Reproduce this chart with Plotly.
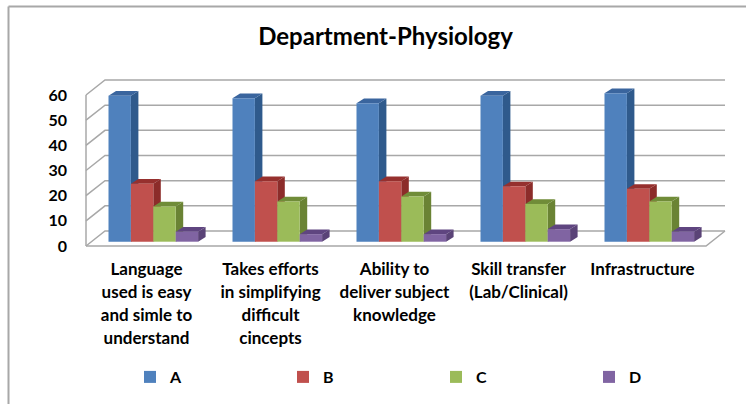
"""Department-Physiology 3D-look clustered column chart."""

import plotly.graph_objects as go

W, H = 746, 404
FONT = "Lato, Carlito, sans-serif"
GRID = "#A8A8A8"

categories = [
    ["Language", "used is easy", "and simle to", "understand"],
    ["Takes efforts", "in simplifying", "difficult", "cincepts"],
    ["Ability to", "deliver subject", "knowledge"],
    ["Skill transfer", "(Lab/Clinical)"],
    ["Infrastructure"],
]
series_names = ["A", "B", "C", "D"]
series_a = [58, 57, 55, 58, 59]
series_b = [23, 24, 24, 22, 21]
series_c = [14, 16, 18, 15, 16]
series_d = [4, 3, 3, 5, 4]
y_ticks = [0, 10, 20, 30, 40, 50, 60]

front_colors = ["#4F81BD", "#C0504D", "#9BBB59", "#8064A2"]
side_colors = ["#2F5A8C", "#8C2C2A", "#6A8334", "#5A4377"]
top_colors = ["#3A659E", "#96302E", "#708C38", "#5F4580"]

# plot area in pixels, one x unit = one category, floor front edge is y=0
L, R, T, B = 72, 730, 70, 252
PX_X = 124.0
PX_Y = 151 / 60
X_RANGE = [(L - 148) / PX_X, (R - 148) / PX_X]
Y_RANGE = [(246 - B) / PX_Y, (246 - T) / PX_Y]

# projection offsets
WALL_DX, WALL_DY = 19 / PX_X, 15 / PX_Y
BAR_SHIFT, BAR_BASE = 5.3 / PX_X, 4.3 / PX_Y
FACE_DX, FACE_DY = 7.5 / PX_X, 4.7 / PX_Y
BAR_GAP = 0.2774
BAR_W = (1 - BAR_GAP) / 4

fig = go.Figure()

# walls and floor
first, last = -0.5, len(categories) - 0.5
grid_x, grid_y = [first, first, None], [y_ticks[0], y_ticks[-1], None]
for t in y_ticks:
    grid_x += [first, first + WALL_DX, last + WALL_DX, None]
    grid_y += [t, t + WALL_DY, t + WALL_DY, None]
grid_x += [first, last, last + WALL_DX]
grid_y += [0, 0, WALL_DY]
fig.add_trace(
    go.Scatter(
        x=grid_x,
        y=grid_y,
        mode="lines",
        line=dict(color=GRID, width=1.5),
        showlegend=False,
        hoverinfo="skip",
    )
)

# side and top faces, painted left to right, fronts sit above on the overlay axes
all_series = [series_a, series_b, series_c, series_d]
for j, values in enumerate(all_series):
    side_x, side_y, top_x, top_y = [], [], [], []
    for i, v in enumerate(values):
        left = i + BAR_SHIFT - 2 * BAR_W + j * BAR_W
        right = left + BAR_W
        peak = v + BAR_BASE
        side_x += [right, right + FACE_DX, right + FACE_DX, right, None]
        side_y += [BAR_BASE, BAR_BASE + FACE_DY, peak + FACE_DY, peak, None]
        top_x += [left, left + FACE_DX, right + FACE_DX, right, None]
        top_y += [peak, peak + FACE_DY, peak + FACE_DY, peak, None]
    for xs, ys, color in [(side_x, side_y, side_colors[j]), (top_x, top_y, top_colors[j])]:
        fig.add_trace(
            go.Scatter(
                x=xs,
                y=ys,
                mode="lines",
                fill="toself",
                fillcolor=color,
                line=dict(width=0, color=color),
                showlegend=False,
                hoverinfo="skip",
            )
        )

for j, values in enumerate(all_series):
    fig.add_trace(
        go.Bar(
            x=[i + BAR_SHIFT for i in range(len(values))],
            y=values,
            base=BAR_BASE,
            name=series_names[j],
            marker=dict(color=front_colors[j], line=dict(width=0)),
            xaxis="x2",
            yaxis="y2",
        )
    )


def tick_label(lines):
    # tick font size sets the line pitch, the span sets the glyph size
    return "<br>".join(f'<span style="font-size:17px">{s}</span>' for s in lines)


def px_x(p):
    return (p - L) / (R - L)


def px_y(p):
    return (B - p) / (B - T)


fig.update_layout(
    width=W,
    height=H,
    margin=dict(l=L, r=W - R, t=T, b=H - B, pad=0),
    autosize=False,
    paper_bgcolor="white",
    plot_bgcolor="white",
    font=dict(family=FONT, color="black", size=15),
    barmode="group",
    bargap=BAR_GAP,
    bargroupgap=0,
    title=dict(
        text="<b>Department-Physiology</b>",
        font=dict(family=FONT, size=24, color="black"),
        x=385.5 / W,
        xanchor="center",
        y=1 - 37 / H,
        yanchor="middle",
    ),
    xaxis=dict(
        range=X_RANGE,
        tickmode="array",
        tickvals=[i - 0.012 for i in range(len(categories))],
        ticktext=[tick_label(c) for c in categories],
        tickfont=dict(family=FONT, size=17.7, weight="bold"),
        tickangle=0,
        showgrid=False,
        zeroline=False,
        showline=False,
        ticks="",
        ticklabelstandoff=4,
    ),
    yaxis=dict(
        range=Y_RANGE,
        tickmode="array",
        tickvals=y_ticks,
        tickfont=dict(family=FONT, size=16, weight="bold"),
        showgrid=False,
        zeroline=False,
        showline=False,
        ticks="",
        ticklabelstandoff=4,
    ),
    xaxis2=dict(range=X_RANGE, overlaying="x", visible=False),
    yaxis2=dict(range=Y_RANGE, overlaying="y", visible=False),
    legend=dict(
        orientation="h",
        xref="container",
        yref="container",
        x=130 / W,
        xanchor="left",
        y=1 - 377 / H,
        yanchor="middle",
        entrywidth=108,
        entrywidthmode="pixels",
        font=dict(family=FONT, size=16, weight="bold"),
        bgcolor="rgba(0,0,0,0)",
    ),
    shapes=[
        dict(type="line", xref="paper", yref="paper", x0=px_x(8.5), x1=px_x(W),
             y0=px_y(6.5), y1=px_y(6.5), line=dict(color=GRID, width=2)),
        dict(type="line", xref="paper", yref="paper", x0=px_x(8.5), x1=px_x(8.5),
             y0=px_y(6.5), y1=px_y(H), line=dict(color=GRID, width=2)),
    ],
)

fig.write_html(
    "out.html",
    config={"displayModeBar": False},
    post_script="document.body.style.margin='0';",
)
